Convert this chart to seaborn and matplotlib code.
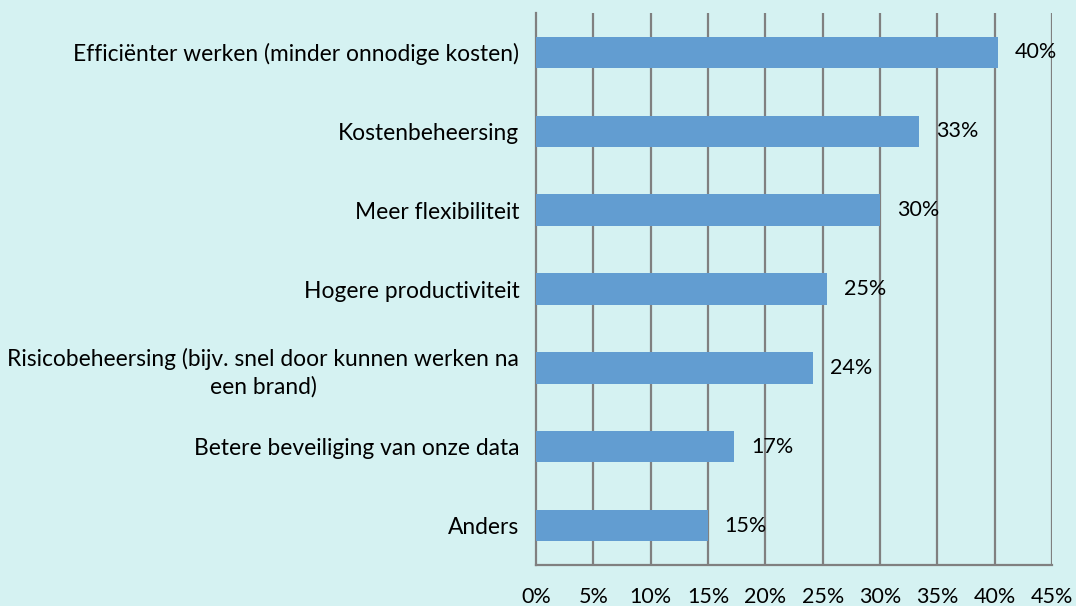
import matplotlib
matplotlib.use("Agg")
import matplotlib.pyplot as plt
from matplotlib.ticker import FixedLocator
import seaborn as sns
import pandas as pd

# data
categories = [
    "Efficiënter werken (minder onnodige kosten)",
    "Kostenbeheersing",
    "Meer flexibiliteit",
    "Hogere productiviteit",
    "Risicobeheersing (bijv. snel door kunnen werken na\neen brand)",
    "Betere beveiliging van onze data",
    "Anders",
]
values = [40.3, 33.4, 30.0, 25.4, 24.2, 17.3, 15.0]
value_labels = ["40%", "33%", "30%", "25%", "24%", "17%", "15%"]
x_ticks = [0, 5, 10, 15, 20, 25, 30, 35, 40, 45]
x_tick_labels = [f"{t}%" for t in x_ticks]

df = pd.DataFrame({"reden": categories, "pct": values})

bg = "#D5F2F2"
bar_color = "#629DD1"
grid_color = "#808080"
fs = 15.5

sns.set_style("white")
plt.rcParams["font.family"] = ["Lato", "DejaVu Sans"]

fig = plt.figure(figsize=(10.76, 6.06), dpi=100, facecolor=bg)
ax = fig.add_axes([536 / 1076, 1 - 565 / 606, (1052 - 536) / 1076, (565 - 13) / 606])
ax.set_facecolor(bg)

sns.barplot(data=df, x="pct", y="reden", orient="h", color=bar_color,
            saturation=1, width=0.40, linewidth=0, ax=ax, zorder=3)

ax.set_xlim(0, 45)
ax.set_ylim(len(categories) - 0.5, -0.5)
ax.set_xticks(x_ticks)
ax.set_xticklabels(x_tick_labels)
ax.set_xlabel("")
ax.set_ylabel("")

# vertical gridlines
for t in x_ticks[1:]:
    ax.axvline(t, color=grid_color, lw=1.6, zorder=1)

for side in ["top", "right"]:
    ax.spines[side].set_visible(False)
for side in ["left", "bottom"]:
    ax.spines[side].set_color(grid_color)
    ax.spines[side].set_linewidth(1.6)

ax.tick_params(axis="x", length=6, width=1.6, color=grid_color, pad=10,
               labelsize=fs, labelcolor="black")
ax.tick_params(axis="y", which="major", length=0, pad=12, labelsize=16.4,
               labelcolor="black")
ax.yaxis.set_minor_locator(FixedLocator([i - 0.5 for i in range(len(categories) + 1)]))
ax.tick_params(axis="y", which="minor", length=6, width=1.6, color=grid_color)

for lbl in ax.get_yticklabels():
    lbl.set_multialignment("center")
    lbl.set_linespacing(1.35)

ax.bar_label(ax.containers[0], labels=value_labels, padding=12, fontsize=fs,
             color="black")

fig.savefig("out.png", dpi=100, facecolor=bg)
